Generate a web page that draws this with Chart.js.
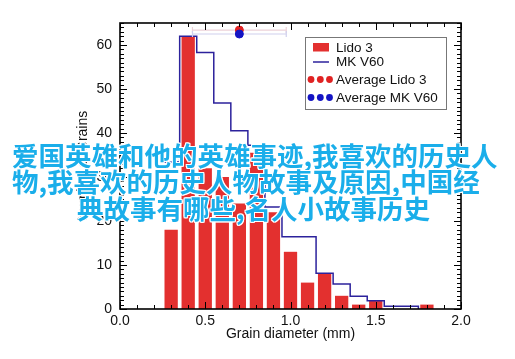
<!DOCTYPE html>
<html><head><meta charset="utf-8">
<script src="https://cdn.jsdelivr.net/npm/chart.js@4.4.1/dist/chart.umd.min.js"></script>
<style>
html,body{margin:0;padding:0;background:#fff;}
#wrap{position:relative;width:515px;height:359px;overflow:hidden;background:#fff;}
#c{position:absolute;left:0;top:0;}
.ov{position:absolute;white-space:nowrap;font-family:"Noto Sans CJK SC";font-weight:bold;font-size:26.5px;line-height:26px;color:#1aaeea;
text-shadow:1px 0 0 #fff,-1px 0 0 #fff,0 1px 0 #fff,0 -1px 0 #fff,1px 1px 0 #fff,-1px -1px 0 #fff,1px -1px 0 #fff,-1px 1px 0 #fff;}
</style></head>
<body><div id="wrap"><canvas id="c" width="515" height="359"></canvas>
<div class="ov" style="left:12px;top:142px">爱国英雄和他的英雄事迹,我喜欢的历史人</div>
<div class="ov" style="left:12px;top:168px">物,我喜欢的历史人物故事及原因,中国经</div>
<div class="ov" style="left:77px;top:195px">典故事有哪些,名人小故事历史</div>
</div>
<script>
// ---- data ----
const binCenters  = [0.3, 0.4, 0.5, 0.6, 0.7, 0.8, 0.9, 1.0, 1.1, 1.2, 1.3, 1.4, 1.5, 1.6, 1.7, 1.8];
const lido3Counts = [18, 62, 32, 30, 24, 35.5, 22, 13, 6, 8, 3, 1, 2, 0, 0, 1];
const mkEdges  = [0.25, 0.35, 0.45, 0.55, 0.65, 0.75, 0.85, 0.95, 1.05, 1.15, 1.25, 1.35, 1.45, 1.55, 1.65, 1.75];
const mkCounts = [33.4, 62, 58.3, 46.8, 40.5, 37.2, 23.2, 16.4, 16.4, 8.1, 5.7, 2.9, 1.9, 0.6, 0.6];
const avgNames = ["Average Lido 3", "Average MK V60"];
const avgMean  = [0.70, 0.70];
const avgLevel = [63.4, 62.5];
const avgErr   = [0.275, 0.275];
const xTickValues = [0, 0.5, 1.0, 1.5, 2.0];
const yTickValues = [0, 10, 20, 30, 40, 50, 60];
const xMinorStep = 0.1, yMinorStep = 1;
const xTitle = "Grain diameter (mm)";
const yTitle = "Number of Grains";

const RED = '#e3302f', NAVY = '#2c229c', RDOT = '#e02222', BDOT = '#1414c4';

const stepData = mkCounts.map((v, i) => ({x: mkEdges[i], y: v}))
  .concat([{x: mkEdges[mkEdges.length - 1], y: 0}]);

const decor = {
  id: 'decor',
  afterDraw(chart) {
    const ctx = chart.ctx, a = chart.chartArea;
    const xs = chart.scales.x, ys = chart.scales.y;
    ctx.save();
    ctx.strokeStyle = '#000';
    ctx.lineWidth = 1;
    for (let v = ys.min; v <= ys.max + 1e-9; v += yMinorStep) {
      const major = Math.abs(v / 10 - Math.round(v / 10)) < 1e-6;
      const len = major ? 7 : 4;
      const py = Math.round(ys.getPixelForValue(v)) + 0.5;
      ctx.beginPath();
      ctx.moveTo(a.left, py); ctx.lineTo(a.left + len, py);
      ctx.moveTo(a.right, py); ctx.lineTo(a.right - len, py);
      ctx.stroke();
    }
    for (let i = 0; i <= Math.round((xs.max - xs.min) / xMinorStep); i++) {
      const v = xs.min + i * xMinorStep;
      const major = i % 5 === 0;
      const len = major ? 7 : 4;
      const px = Math.round(xs.getPixelForValue(v)) + 0.5;
      ctx.beginPath();
      ctx.moveTo(px, a.bottom); ctx.lineTo(px, a.bottom - len);
      ctx.moveTo(px, a.top); ctx.lineTo(px, a.top + len);
      ctx.stroke();
    }
    ctx.lineWidth = 1.6;
    ctx.strokeRect(a.left, a.top, a.right - a.left, a.bottom - a.top);
    // legend
    const lx = 305, ly = 37, lw = 141, lh = 72;
    ctx.fillStyle = '#fff';
    ctx.fillRect(lx, ly, lw, lh);
    ctx.strokeStyle = '#777';
    ctx.lineWidth = 1;
    ctx.strokeRect(lx + 0.5, ly + 0.5, lw, lh);
    ctx.font = '13.5px "Liberation Sans", Arial, sans-serif';
    ctx.textBaseline = 'middle';
    ctx.textAlign = 'left';
    const rows = [chart.data.datasets[4].label, chart.data.datasets[3].label, avgNames[0], avgNames[1]];
    const ry = [47.5, 62, 79.5, 97.5];
    ctx.fillStyle = RED;
    ctx.fillRect(313, 43, 16, 8.5);
    ctx.strokeStyle = NAVY; ctx.lineWidth = 1.5;
    ctx.beginPath(); ctx.moveTo(313, ry[1]); ctx.lineTo(329, ry[1]); ctx.stroke();
    [[RDOT, ry[2]], [BDOT, ry[3]]].forEach(([c, y]) => {
      ctx.fillStyle = c;
      [311, 320.3, 329.5].forEach(x => { ctx.beginPath(); ctx.arc(x, y, 3.4, 0, Math.PI * 2); ctx.fill(); });
    });
    ctx.fillStyle = '#111';
    rows.forEach((t, i) => ctx.fillText(t, 336, ry[i] + 0.5));
    ctx.restore();
  }
};

const errDs = (i, color) => ({
  type: 'line', label: 'err' + i,
  data: [{x: avgMean[i] - avgErr[i], y: avgLevel[i]}, {x: avgMean[i] + avgErr[i], y: avgLevel[i]}],
  borderColor: color, borderWidth: 1.2, pointStyle: 'line', rotation: 90,
  pointRadius: 3, pointBorderColor: color, pointBorderWidth: 1.2, fill: false
});

const FONT = '"Liberation Sans", Arial, sans-serif';

new Chart(document.getElementById('c'), {
  type: 'bar',
  data: {
    datasets: [
      {type: 'scatter', label: avgNames[1], data: [{x: avgMean[1], y: avgLevel[1]}], backgroundColor: BDOT, borderColor: BDOT, pointRadius: 4},
      {type: 'scatter', label: avgNames[0], data: [{x: avgMean[0], y: avgLevel[0]}], backgroundColor: RDOT, borderColor: RDOT, pointRadius: 4},
      errDs(1, '#cfd0ee'),
      {type: 'line', label: 'MK V60', data: stepData, stepped: 'before', borderColor: NAVY, borderWidth: 1.5, pointRadius: 0, fill: false},
      {type: 'bar', label: 'Lido 3', data: binCenters.map((x, i) => ({x: x, y: lido3Counts[i]})), backgroundColor: RED, borderWidth: 0, barPercentage: 0.78, categoryPercentage: 1},
      errDs(0, '#ecd2d8')
    ]
  },
  options: {
    responsive: false, animation: false, devicePixelRatio: 1,
    layout: {padding: {left: 0, right: 54, top: 23, bottom: 0}},
    plugins: {legend: {display: false}, tooltip: {enabled: false}},
    scales: {
      x: {
        type: 'linear', min: 0, max: 2, offset: false,
        grid: {display: false, drawTicks: false}, border: {display: false},
        afterBuildTicks: s => { s.ticks = xTickValues.map(v => ({value: v})); },
        afterFit: s => { s.height = 50; },
        ticks: {color: '#111', padding: 4, font: {size: 14, family: FONT}, callback: v => Number(v).toFixed(1)},
        title: {display: true, text: xTitle, color: '#111', padding: {top: 16.5, bottom: 16.5}, font: {size: 14, family: FONT}}
      },
      y: {
        min: 0, max: 65,
        grid: {display: false, drawTicks: false}, border: {display: false},
        afterBuildTicks: s => { s.ticks = yTickValues.map(v => ({value: v})); },
        afterFit: s => { s.width = 120; },
        ticks: {color: '#111', padding: 8, font: {size: 14, family: FONT}},
        title: {display: true, text: yTitle, color: '#111', padding: {top: 74.5, bottom: 74.5}, font: {size: 14, family: FONT}}
      }
    }
  },
  plugins: [decor]
});
</script>
</body></html>
